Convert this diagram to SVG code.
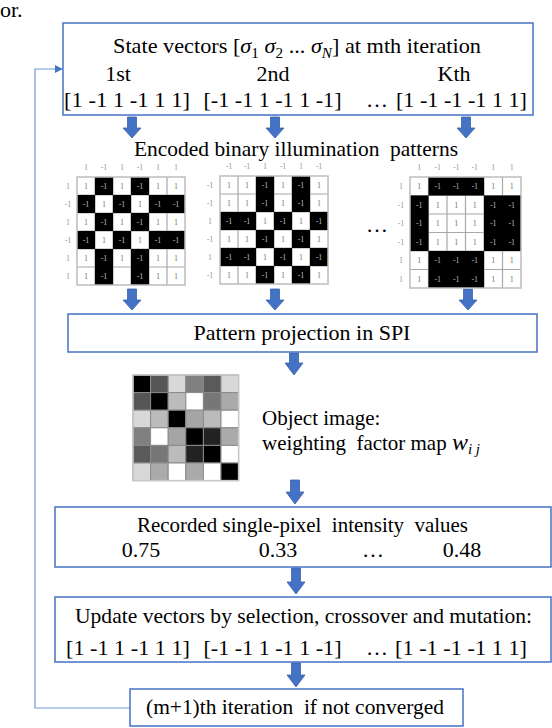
<svg xmlns="http://www.w3.org/2000/svg" width="552" height="728" viewBox="0 0 552 728" font-family="'Liberation Serif', 'Times New Roman', serif">
<defs>
<style>
text{font-family:'Liberation Serif','Times New Roman',serif;fill:#000}
.t{font-size:22px}
.o{font-size:21px}
.box{fill:#fff;stroke:#4472C4;stroke-width:1.5}
.arr{fill:#4472C4;stroke:#3A62AA;stroke-width:0.8}
.fb{fill:none;stroke:#6A9AD6;stroke-width:1.2}
.gbg{fill:#fff}
.gl{fill:none;stroke:#A8A8A8;stroke-width:1.2}
.gb{fill:#000}
.gbd{fill:none;stroke:#BDBDBD;stroke-width:1.5}
.c{font-size:8px;text-anchor:middle}
.w{fill:#777}
.k{fill:#BBB}
.lb{font-size:8px;fill:#999;text-anchor:middle}
.og{stroke:#8A8A8A;stroke-width:1}
</style>
<marker id="ah" viewBox="0 0 10 10" refX="9" refY="5" markerWidth="8" markerHeight="8" markerUnits="userSpaceOnUse" orient="auto">
<path d="M0 0 L10 5 L0 10 Z" fill="#4472C4"/>
</marker>
</defs>
<rect width="552" height="728" fill="#fff"/>

<text class="t" x="0" y="17">or.</text>

<g id="connectors">
<polyline class="fb" points="130,708 35,708 35,69 62,69" marker-end="url(#ah)"/>
<path class="arr" d="M127.5 117 H136.5 V128 H141 L132 138 L123 128 H127.5 Z"/>
<path class="arr" d="M270.5 117 H279.5 V128 H284 L275 138 L266 128 H270.5 Z"/>
<path class="arr" d="M461.5 117 H470.5 V128 H475 L466 138 L457 128 H461.5 Z"/>
<path class="arr" d="M127.5 289 H136.5 V300 H141 L132 310 L123 300 H127.5 Z"/>
<path class="arr" d="M270.5 289 H279.5 V300 H284 L275 310 L266 300 H270.5 Z"/>
<path class="arr" d="M463.5 289 H472.5 V300 H477 L468 310 L459 300 H463.5 Z"/>
<path class="arr" d="M289.5 353 H298.5 V363 H303 L294 375 L285 363 H289.5 Z"/>
<path class="arr" d="M290.5 480 H299.5 V492 H304 L295 504 L286 492 H290.5 Z"/>
<path class="arr" d="M291.5 568 H300.5 V582 H305 L296 594 L287 582 H291.5 Z"/>
<path class="arr" d="M291.5 663 H300.5 V675 H305 L296 687 L287 675 H291.5 Z"/>
</g>

<g id="node-state">
<rect class="box" x="63" y="23" width="470" height="92"/>
<text class="t" x="113" y="53" textLength="368" lengthAdjust="spacingAndGlyphs">State vectors [<tspan font-style="italic">σ</tspan><tspan font-size="15" dy="5">1</tspan><tspan dy="-5"> </tspan><tspan font-style="italic">σ</tspan><tspan font-size="15" dy="5">2</tspan><tspan dy="-5"> ... </tspan><tspan font-style="italic">σ</tspan><tspan font-size="15" font-style="italic" dy="5">N</tspan><tspan dy="-5">] at mth iteration</tspan></text>
<text class="t" x="118" y="81" text-anchor="middle">1st</text>
<text class="t" x="273" y="81" text-anchor="middle">2nd</text>
<text class="t" x="454" y="81" text-anchor="middle">Kth</text>
<text class="t" x="64" y="107" textLength="126" lengthAdjust="spacingAndGlyphs">[1 -1 1 -1 1 1]</text>
<text class="t" x="203.5" y="107" textLength="138" lengthAdjust="spacingAndGlyphs">[-1 -1 1 -1 1 -1]</text>
<text class="t" x="366" y="107">…</text>
<text class="t" x="396" y="107" textLength="131" lengthAdjust="spacingAndGlyphs">[1 -1 -1 -1 1 1]</text>
</g>

<g id="node-patterns">
<text class="t" x="134" y="156" textLength="324" lengthAdjust="spacingAndGlyphs" xml:space="preserve">Encoded binary illumination  patterns</text>
<text class="t" x="366" y="232">…</text>

<g id="pattern-1">
<rect class="gbg" x="77" y="177" width="108" height="108"/>
<path class="gl" d="M95 177V285M113 177V285M131 177V285M149 177V285M167 177V285M77 195H185M77 213H185M77 231H185M77 249H185M77 267H185"/>
<path class="gb" d="M95 177h18v18h-18zM131 177h18v18h-18zM77 195h18v18h-18zM113 195h18v18h-18zM149 195h36v18h-36zM95 213h18v18h-18zM131 213h18v18h-18zM77 231h18v18h-18zM113 231h18v18h-18zM149 231h36v18h-36zM95 249h18v36h-18zM131 249h18v36h-18z"/>
<rect class="gbd" x="77" y="177" width="108" height="108"/>
<text class="lb" y="170"><tspan x="86">1</tspan><tspan x="104">-1</tspan><tspan x="122">1</tspan><tspan x="140">-1</tspan><tspan x="158">1</tspan><tspan x="176">1</tspan></text>
<text class="lb"><tspan x="68" y="189">1</tspan><tspan x="68" y="207">-1</tspan><tspan x="68" y="225">1</tspan><tspan x="68" y="243">-1</tspan><tspan x="68" y="261">1</tspan><tspan x="68" y="279">1</tspan></text>
<text class="c" y="189"><tspan class="w" x="86">1</tspan><tspan class="k" x="104">-1</tspan><tspan class="w" x="122">1</tspan><tspan class="k" x="140">-1</tspan><tspan class="w" x="158">1</tspan><tspan class="w" x="176">1</tspan></text>
<text class="c" y="207"><tspan class="k" x="86">-1</tspan><tspan class="w" x="104">1</tspan><tspan class="k" x="122">-1</tspan><tspan class="w" x="140">1</tspan><tspan class="k" x="158">-1</tspan><tspan class="k" x="176">-1</tspan></text>
<text class="c" y="225"><tspan class="w" x="86">1</tspan><tspan class="k" x="104">-1</tspan><tspan class="w" x="122">1</tspan><tspan class="k" x="140">-1</tspan><tspan class="w" x="158">1</tspan><tspan class="w" x="176">1</tspan></text>
<text class="c" y="243"><tspan class="k" x="86">-1</tspan><tspan class="w" x="104">1</tspan><tspan class="k" x="122">-1</tspan><tspan class="w" x="140">1</tspan><tspan class="k" x="158">-1</tspan><tspan class="k" x="176">-1</tspan></text>
<text class="c" y="261"><tspan class="w" x="86">1</tspan><tspan class="k" x="104">-1</tspan><tspan class="w" x="122">1</tspan><tspan class="k" x="140">-1</tspan><tspan class="w" x="158">1</tspan><tspan class="w" x="176">1</tspan></text>
<text class="c" y="279"><tspan class="w" x="86">1</tspan><tspan class="k" x="104">-1</tspan><tspan class="k" x="140">-1</tspan><tspan class="w" x="158">1</tspan><tspan class="w" x="176">1</tspan></text>
</g>

<g id="pattern-2">
<rect class="gbg" x="220" y="176" width="108" height="108"/>
<path class="gl" d="M238 176V284M256 176V284M274 176V284M292 176V284M310 176V284M220 194H328M220 212H328M220 230H328M220 248H328M220 266H328"/>
<path class="gb" d="M256 176h18v36h-18zM292 176h18v36h-18zM220 212h36v18h-36zM274 212h18v18h-18zM310 212h18v18h-18zM256 230h18v18h-18zM292 230h18v18h-18zM220 248h36v18h-36zM274 248h18v18h-18zM310 248h18v18h-18zM256 266h18v18h-18zM292 266h18v18h-18z"/>
<rect class="gbd" x="220" y="176" width="108" height="108"/>
<text class="lb" y="169"><tspan x="229">-1</tspan><tspan x="247">-1</tspan><tspan x="265">1</tspan><tspan x="283">-1</tspan><tspan x="301">1</tspan><tspan x="319">-1</tspan></text>
<text class="lb"><tspan x="210" y="188">-1</tspan><tspan x="210" y="206">-1</tspan><tspan x="210" y="224">1</tspan><tspan x="210" y="242">-1</tspan><tspan x="210" y="260">1</tspan><tspan x="210" y="278">-1</tspan></text>
<text class="c" y="188"><tspan class="w" x="229">1</tspan><tspan class="w" x="247">1</tspan><tspan class="k" x="265">-1</tspan><tspan class="w" x="283">1</tspan><tspan class="k" x="301">-1</tspan><tspan class="w" x="319">1</tspan></text>
<text class="c" y="206"><tspan class="w" x="229">1</tspan><tspan class="w" x="247">1</tspan><tspan class="k" x="265">-1</tspan><tspan class="w" x="283">1</tspan><tspan class="k" x="301">-1</tspan><tspan class="w" x="319">1</tspan></text>
<text class="c" y="224"><tspan class="k" x="229">-1</tspan><tspan class="k" x="247">-1</tspan><tspan class="w" x="265">1</tspan><tspan class="k" x="283">-1</tspan><tspan class="w" x="301">1</tspan><tspan class="k" x="319">-1</tspan></text>
<text class="c" y="242"><tspan class="w" x="229">1</tspan><tspan class="w" x="247">1</tspan><tspan class="k" x="265">-1</tspan><tspan class="w" x="283">1</tspan><tspan class="k" x="301">-1</tspan><tspan class="w" x="319">1</tspan></text>
<text class="c" y="260"><tspan class="k" x="229">-1</tspan><tspan class="k" x="247">-1</tspan><tspan class="w" x="265">1</tspan><tspan class="k" x="283">-1</tspan><tspan class="w" x="301">1</tspan><tspan class="k" x="319">-1</tspan></text>
<text class="c" y="278"><tspan class="w" x="229">1</tspan><tspan class="w" x="247">1</tspan><tspan class="k" x="265">-1</tspan><tspan class="w" x="283">1</tspan><tspan class="k" x="301">-1</tspan><tspan class="w" x="319">1</tspan></text>
</g>

<g id="pattern-k">
<rect class="gbg" x="410" y="177" width="111" height="111"/>
<path class="gl" d="M428.5 177V288M447 177V288M465.5 177V288M484 177V288M502.5 177V288M410 195.5H521M410 214H521M410 232.5H521M410 251H521M410 269.5H521"/>
<path class="gb" d="M428.5 177h55.5v18.5h-55.5zM428.5 251h55.5v37h-55.5zM410 195.5h18.5v55.5h-18.5zM484 195.5h37v55.5h-37z"/>
<rect class="gbd" x="410" y="177" width="111" height="111"/>
<text class="lb" y="170"><tspan x="419.25">1</tspan><tspan x="437.75">-1</tspan><tspan x="456.25">-1</tspan><tspan x="474.75">-1</tspan><tspan x="493.25">1</tspan><tspan x="511.75">1</tspan></text>
<text class="lb"><tspan x="401" y="189">1</tspan><tspan x="401" y="208">-1</tspan><tspan x="401" y="226">-1</tspan><tspan x="401" y="245">-1</tspan><tspan x="401" y="263">1</tspan><tspan x="401" y="282">1</tspan></text>
<text class="c" y="189"><tspan class="w" x="419.25">1</tspan><tspan class="k" x="437.75">-1</tspan><tspan class="k" x="456.25">-1</tspan><tspan class="k" x="474.75">-1</tspan><tspan class="w" x="493.25">1</tspan><tspan class="w" x="511.75">1</tspan></text>
<text class="c" y="208"><tspan class="k" x="419.25">-1</tspan><tspan class="w" x="437.75">1</tspan><tspan class="w" x="456.25">1</tspan><tspan class="w" x="474.75">1</tspan><tspan class="k" x="493.25">-1</tspan><tspan class="k" x="511.75">-1</tspan></text>
<text class="c" y="226"><tspan class="k" x="419.25">-1</tspan><tspan class="w" x="437.75">1</tspan><tspan class="w" x="456.25">1</tspan><tspan class="w" x="474.75">1</tspan><tspan class="k" x="493.25">-1</tspan><tspan class="k" x="511.75">-1</tspan></text>
<text class="c" y="245"><tspan class="k" x="419.25">-1</tspan><tspan class="w" x="437.75">1</tspan><tspan class="w" x="456.25">1</tspan><tspan class="w" x="474.75">1</tspan><tspan class="k" x="493.25">-1</tspan><tspan class="k" x="511.75">-1</tspan></text>
<text class="c" y="263"><tspan class="w" x="419.25">1</tspan><tspan class="k" x="437.75">-1</tspan><tspan class="k" x="456.25">-1</tspan><tspan class="k" x="474.75">-1</tspan><tspan class="w" x="493.25">1</tspan><tspan class="w" x="511.75">1</tspan></text>
<text class="c" y="282"><tspan class="w" x="419.25">1</tspan><tspan class="k" x="437.75">-1</tspan><tspan class="k" x="456.25">-1</tspan><tspan class="k" x="474.75">-1</tspan><tspan class="w" x="493.25">1</tspan><tspan class="w" x="511.75">1</tspan></text>
</g>
</g>

<g id="node-projection">
<rect class="box" x="68" y="314" width="469" height="38"/>
<text class="t" x="302" y="340" text-anchor="middle">Pattern projection in SPI</text>
</g>

<g id="node-object">
<g class="og">
<rect x="133" y="375" width="17.6" height="17.6" fill="#000"/>
<rect x="150.6" y="375" width="17.6" height="17.6" fill="#555"/>
<rect x="168.2" y="375" width="17.6" height="17.6" fill="#D8D8D8"/>
<rect x="185.8" y="375" width="17.6" height="17.6" fill="#808080"/>
<rect x="203.4" y="375" width="17.6" height="17.6" fill="#5A5A5A"/>
<rect x="221" y="375" width="17.6" height="17.6" fill="#D8D8D8"/>
<rect x="133" y="392.6" width="17.6" height="17.6" fill="#555"/>
<rect x="150.6" y="392.6" width="17.6" height="17.6" fill="#000"/>
<rect x="168.2" y="392.6" width="17.6" height="17.6" fill="#BBB"/>
<rect x="185.8" y="392.6" width="17.6" height="17.6" fill="#FFF"/>
<rect x="203.4" y="392.6" width="17.6" height="17.6" fill="#777"/>
<rect x="221" y="392.6" width="17.6" height="17.6" fill="#AAA"/>
<rect x="133" y="410.2" width="17.6" height="17.6" fill="#D8D8D8"/>
<rect x="150.6" y="410.2" width="17.6" height="17.6" fill="#BBB"/>
<rect x="168.2" y="410.2" width="17.6" height="17.6" fill="#000"/>
<rect x="185.8" y="410.2" width="17.6" height="17.6" fill="#A5A5A5"/>
<rect x="203.4" y="410.2" width="17.6" height="17.6" fill="#BBB"/>
<rect x="221" y="410.2" width="17.6" height="17.6" fill="#FFF"/>
<rect x="133" y="427.8" width="17.6" height="17.6" fill="#808080"/>
<rect x="150.6" y="427.8" width="17.6" height="17.6" fill="#FFF"/>
<rect x="168.2" y="427.8" width="17.6" height="17.6" fill="#A5A5A5"/>
<rect x="185.8" y="427.8" width="17.6" height="17.6" fill="#000"/>
<rect x="203.4" y="427.8" width="17.6" height="17.6" fill="#222"/>
<rect x="221" y="427.8" width="17.6" height="17.6" fill="#AAA"/>
<rect x="133" y="445.4" width="17.6" height="17.6" fill="#5A5A5A"/>
<rect x="150.6" y="445.4" width="17.6" height="17.6" fill="#777"/>
<rect x="168.2" y="445.4" width="17.6" height="17.6" fill="#BBB"/>
<rect x="185.8" y="445.4" width="17.6" height="17.6" fill="#222"/>
<rect x="203.4" y="445.4" width="17.6" height="17.6" fill="#000"/>
<rect x="221" y="445.4" width="17.6" height="17.6" fill="#FFF"/>
<rect x="133" y="463" width="17.6" height="17.6" fill="#D8D8D8"/>
<rect x="150.6" y="463" width="17.6" height="17.6" fill="#AAA"/>
<rect x="168.2" y="463" width="17.6" height="17.6" fill="#FFF"/>
<rect x="185.8" y="463" width="17.6" height="17.6" fill="#AAA"/>
<rect x="203.4" y="463" width="17.6" height="17.6" fill="#FFF"/>
<rect x="221" y="463" width="17.6" height="17.6" fill="#000"/>
</g>
<rect x="133" y="375" width="105.6" height="105.6" fill="none" stroke="#C8C8C8" stroke-width="1.5"/>
<text class="o" x="262" y="425">Object image:</text>
<text class="o" x="262" y="450" textLength="218" lengthAdjust="spacingAndGlyphs" xml:space="preserve">weighting  factor map <tspan font-style="italic" font-size="24">w</tspan><tspan font-style="italic" font-size="15" dy="4">i j</tspan></text>
</g>

<g id="node-recorded">
<rect class="box" x="55" y="507" width="496" height="60"/>
<text class="t" x="137" y="532" textLength="331" lengthAdjust="spacingAndGlyphs" xml:space="preserve">Recorded single-pixel  intensity  values</text>
<text class="t" x="141" y="557" text-anchor="middle">0.75</text>
<text class="t" x="278" y="557" text-anchor="middle">0.33</text>
<text class="t" x="373" y="557" text-anchor="middle">…</text>
<text class="t" x="462" y="557" text-anchor="middle">0.48</text>
</g>

<g id="node-update">
<rect class="box" x="55" y="597" width="496" height="65"/>
<text class="t" x="75" y="623" textLength="457" lengthAdjust="spacingAndGlyphs">Update vectors by selection, crossover and mutation:</text>
<text class="t" x="66" y="655" textLength="124" lengthAdjust="spacingAndGlyphs">[1 -1 1 -1 1 1]</text>
<text class="t" x="203.5" y="655" textLength="138" lengthAdjust="spacingAndGlyphs">[-1 -1 1 -1 1 -1]</text>
<text class="t" x="366" y="655">…</text>
<text class="t" x="395" y="655" textLength="132" lengthAdjust="spacingAndGlyphs">[1 -1 -1 -1 1 1]</text>
</g>

<g id="node-iteration">
<rect class="box" x="130" y="689" width="333" height="37"/>
<text class="t" x="146" y="714" textLength="298" lengthAdjust="spacingAndGlyphs" xml:space="preserve">(m+1)th iteration  if not converged</text>
</g>
</svg>
